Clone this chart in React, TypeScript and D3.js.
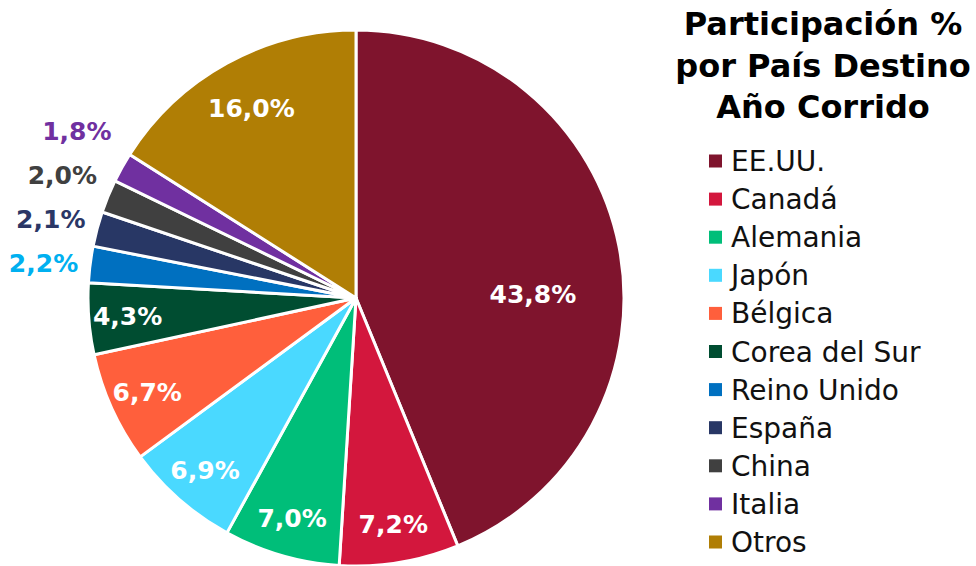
import React from 'react';
import * as d3 from 'd3';

// participación por país destino, año corrido (%)
const paises = ['EE.UU.', 'Canadá', 'Alemania', 'Japón', 'Bélgica', 'Corea del Sur', 'Reino Unido', 'España', 'China', 'Italia', 'Otros'];
const participacion = [43.8, 7.2, 7.0, 6.9, 6.7, 4.3, 2.2, 2.1, 2.0, 1.8, 16.0];
const colores = ['#7F142D', '#D3173D', '#00BE79', '#4AD9FF', '#FF5F3C', '#004D31', '#0070C0', '#283765', '#404040', '#7030A0', '#B07E05'];
// small slices get their label outside, in these colours
const coloresEtiquetaExterna = ['#00B0F0', '#2B3766', '#404040', '#7030A0'];
const tituloLineas = ['Participación %', 'por País Destino', 'Año Corrido'];

const W = 976;
const H = 566;
const cx = 356;
const cy = 298;
const R = 268;

const fmt = (v: number) => v.toFixed(1).replace('.', ',') + '%';

const App = () => {
  const pie = d3.pie<number>().sort(null).value((d) => d)(participacion);
  const arc = d3.arc<d3.PieArcDatum<number>>().innerRadius(0).outerRadius(R);

  // labels inside the slice
  const inner = pie.filter((p) => p.value >= 4);
  // small slices: outside, right-anchored, stacked so they don't collide
  const outer = pie
    .map((p, i) => ({ p, i }))
    .filter(({ p }) => p.value < 4);
  const rOut = R + 12;
  let prevY = Infinity;
  const outerLabels = outer.map(({ p, i }, k) => {
    const a = (p.startAngle + p.endAngle) / 2;
    const x = cx + Math.sin(a) * rOut;
    let y = cy - Math.cos(a) * rOut;
    y = Math.min(y, prevY - 44);
    prevY = y;
    return { x, y, text: fmt(p.value), color: coloresEtiquetaExterna[k], key: paises[i] };
  });

  const legendY = d3.scalePoint<string>().domain(paises).range([161, 542]);

  return (
    <svg width={W} height={H} style={{ position: 'absolute', left: 0, top: 0, background: '#fff' }}>
      <g transform={`translate(${cx},${cy})`}>
        {pie.map((p, i) => (
          <path key={paises[i]} d={arc(p) || ''} fill={colores[i]} stroke="#fff" strokeWidth={3} strokeLinejoin="round" />
        ))}
        {inner.map((p) => {
          const a = (p.startAngle + p.endAngle) / 2;
          const big = p.endAngle - p.startAngle > Math.PI * 0.6;
          const r = big ? R * 0.66 : p.value > 10 ? R * 0.81 : R * 0.855;
          let x = Math.sin(a) * r;
          let y = -Math.cos(a) * r;
          if (big) { y = -4; x = r; }
          return (
            <text key={p.index} x={x} y={y} dy="0.36em" textAnchor="middle" fill="#fff"
              fontFamily="'DejaVu Sans', sans-serif" fontWeight="bold" fontSize={25}>
              {fmt(p.value)}
            </text>
          );
        })}
      </g>
      {outerLabels.map((l) => (
        <text key={l.key} x={l.x} y={l.y} dy="0.36em" textAnchor="end" fill={l.color}
          fontFamily="'DejaVu Sans', sans-serif" fontWeight="bold" fontSize={25}>
          {l.text}
        </text>
      ))}
      <g fontFamily="'DejaVu Sans', sans-serif" fontWeight="bold" fontSize={32} fill="#000" textAnchor="middle">
        {tituloLineas.map((t, i) => (
          <text key={t} x={823} y={35 + i * 41.5}>{t}</text>
        ))}
      </g>
      <g fontFamily="'DejaVu Sans', sans-serif" fontSize={28} fill="#111">
        {paises.map((n, i) => (
          <g key={n} transform={`translate(0,${legendY(n)})`}>
            <rect x={709} y={-6.5} width={13} height={13} fill={colores[i]} />
            <text x={731} y={0} dy="0.36em">{n}</text>
          </g>
        ))}
      </g>
    </svg>
  );
};

export default App;
